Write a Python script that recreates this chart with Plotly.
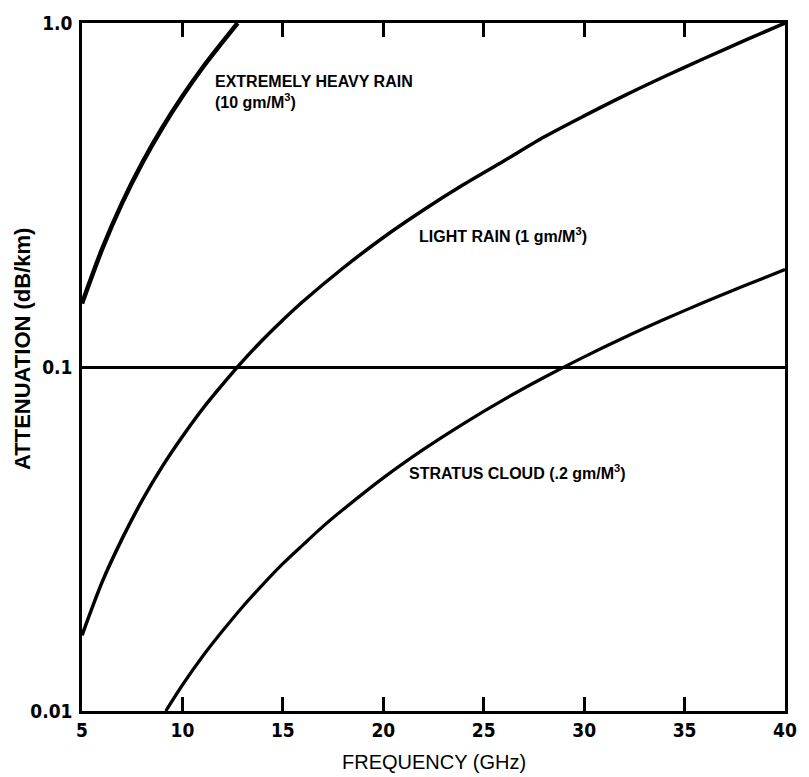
import plotly.graph_objects as go
import math

# Frequency (GHz) and attenuation (dB/km)
heavy_freq = [5, 6, 7, 8, 9, 10, 11, 12, 12.75]
heavy_att = [0.153, 0.220, 0.300, 0.392, 0.496, 0.612, 0.741, 0.881, 1.0]

light_freq = [5, 6, 7, 8, 9, 10, 11, 12, 13, 14, 15, 16, 18, 20, 22, 24, 26, 28, 30, 32, 34, 36, 38, 40]
light_att = [0.0166, 0.0237, 0.0317, 0.0410, 0.0514, 0.0628, 0.0755, 0.0890, 0.104, 0.120, 0.137,
             0.155, 0.194, 0.238, 0.286, 0.339, 0.397, 0.466, 0.537, 0.615, 0.699, 0.790, 0.890, 1.0]

stratus_freq = [9.17, 10, 11, 12, 13, 14, 15, 16, 17, 18, 20, 22, 24, 26, 28, 30, 32, 34, 36, 38, 40]
stratus_att = [0.0100, 0.0119, 0.0144, 0.0171, 0.0201, 0.0233, 0.0268, 0.0304, 0.0344, 0.0385, 0.0476,
               0.0576, 0.0685, 0.0804, 0.0932, 0.1070, 0.1218, 0.1376, 0.1545, 0.1725, 0.1920]

x_ticks = [5, 10, 15, 20, 25, 30, 35, 40]
x_tick_labels = ["5", "10", "15", "20", "25", "30", "35", "40"]
y_ticks = [0.01, 0.1, 1.0]
y_tick_labels = ["0.01", "0.1", "1.0"]

FONT = "Liberation Sans, Arial, sans-serif"
NARROW = "Liberation Sans Narrow, DejaVu Sans Condensed, Liberation Sans, Arial, sans-serif"

fig = go.Figure()

fig.add_trace(go.Scatter(x=heavy_freq, y=heavy_att, mode="lines",
                         line=dict(color="black", width=4.5, shape="spline", smoothing=0.8), showlegend=False))
fig.add_trace(go.Scatter(x=light_freq, y=light_att, mode="lines",
                         line=dict(color="black", width=3.5, shape="spline", smoothing=0.8), showlegend=False))
fig.add_trace(go.Scatter(x=stratus_freq, y=stratus_att, mode="lines",
                         line=dict(color="black", width=3.2, shape="spline", smoothing=0.8), showlegend=False))

lab_font = dict(family=FONT, size=16, color="black", weight="bold")
fig.add_annotation(x=11.52, y=-0.201, xref="x", yref="y", xanchor="left", yanchor="middle", align="left",
                   text="EXTREMELY HEAVY RAIN<br>(10 gm/M<sup>3</sup>)", showarrow=False, font=lab_font)
fig.add_annotation(x=21.7, y=-0.616, xref="x", yref="y", xanchor="left", yanchor="middle",
                   text="LIGHT RAIN (1 gm/M<sup>3</sup>)", showarrow=False, font=lab_font)
fig.add_annotation(x=21.2, y=-1.306, xref="x", yref="y", xanchor="left", yanchor="middle",
                   text="STRATUS CLOUD (.2 gm/M<sup>3</sup>)", showarrow=False, font=lab_font)

# axis titles
fig.add_annotation(x=0.5, y=0, xref="paper", yref="paper", yshift=-51, xanchor="center", yanchor="middle",
                   text="FREQUENCY (GHz)", showarrow=False,
                   font=dict(family=FONT, size=20, color="black"))
fig.add_annotation(x=0, y=0.5, xref="paper", yref="paper", xshift=-60, yshift=18, xanchor="center",
                   yanchor="middle", textangle=-90, text="ATTENUATION (dB/km)", showarrow=False,
                   font=dict(family=FONT, size=22, color="black", weight="bold"))

tick_font = dict(family=NARROW, size=19, color="black", weight="bold")
fig.update_xaxes(range=[5, 40], tickvals=x_ticks, ticktext=x_tick_labels,
                 ticks="inside", ticklen=14, tickwidth=3, tickcolor="#000000",
                 showline=True, linecolor="black", linewidth=3,
                 mirror="allticks", showgrid=False, zeroline=False, tickfont=tick_font)
fig.update_yaxes(type="log", range=[math.log10(min(y_ticks)), math.log10(max(y_ticks))], tickvals=y_ticks,
                 ticktext=y_tick_labels, ticks="",
                 showline=True, linecolor="black", linewidth=2.5, mirror=True, showgrid=True,
                 gridcolor="black", gridwidth=2.5, zeroline=False, tickfont=tick_font, ticklabelstandoff=3)

fig.update_layout(width=809, height=777, margin=dict(l=82, r=14, t=19, b=66),
                  plot_bgcolor="white", paper_bgcolor="white", showlegend=False)

fig.write_html("out.html")
